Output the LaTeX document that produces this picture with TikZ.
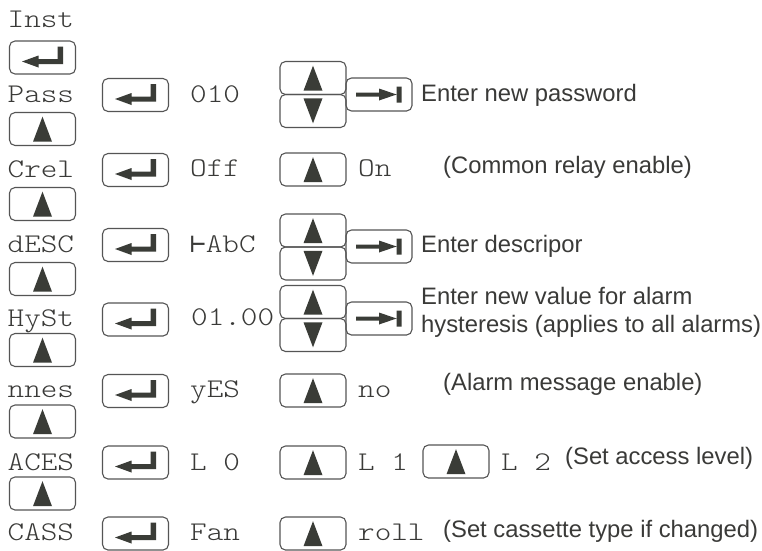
\documentclass[tikz,border=0pt]{standalone}
\usepackage{fontspec}
\setmainfont{Liberation Sans}
\newfontfamily\lmono[FakeStretch=1.17]{lmmonolt10-regular.otf}
\newfontfamily\dvmono{DejaVu Sans Mono}
\definecolor{txtcol}{RGB}{58,58,56}
\definecolor{symcol}{RGB}{58,60,55}
\definecolor{bordercol}{RGB}{85,85,85}
\tikzset{
  btn/.style={draw=bordercol, line width=1.1pt, rounded corners=5.5pt,
    minimum width=66pt, minimum height=33pt, inner sep=0pt, outer sep=0pt},
  upbtn/.style={btn, path picture={\fill[symcol, sharp corners, shift={(path picture bounding box.center)}, x=1pt, y=1pt]
    (0,12.3) -- (-9.5,-12.7) -- (9.5,-12.7) -- cycle;}},
  downbtn/.style={btn, path picture={\fill[symcol, sharp corners, shift={(path picture bounding box.center)}, x=1pt, y=1pt]
    (0,-12.3) -- (-9.5,12.7) -- (9.5,12.7) -- cycle;}},
  enterbtn/.style={btn, path picture={\fill[symcol, sharp corners, shift={(path picture bounding box.center)}, x=1pt, y=1pt]
    (-20.5,-4) -- (-4,2) -- (-4,-1.5) -- (15,-1.5) -- (15,11) -- (20.5,11) -- (20.5,-6.5) -- (-4,-6.5) -- (-4,-10) -- cycle;}},
  tabbtn/.style={btn, path picture={\fill[symcol, sharp corners, shift={(path picture bounding box.center)}, x=1pt, y=1pt]
    (-23,2) -- (0,2) -- (0,6) -- (17.5,0) -- (0,-6) -- (0,-2) -- (-23,-2) -- cycle
    (17.5,-8) rectangle (22.5,8);}},
  mono/.style={font=\lmono\fontsize{27}{30}\selectfont, text=txtcol, anchor=base west, inner sep=0pt},
  desc/.style={font=\fontsize{23.8}{28}\selectfont, text=txtcol, anchor=base west, inner sep=0pt},
}
\begin{document}
\begin{tikzpicture}[x=1pt,y=-1pt]
\useasboundingbox[fill=white] (0,0) rectangle (762,550);
% left column labels
\node[mono] (lInst) at (7.5,27) {Inst};
\node[mono] (lPass) at (7.5,102) {Pass};
\node[mono] (lCrel) at (7.5,177) {Crel};
\node[mono] (ldESC) at (7.5,252) {dESC};
\node[mono] (lHySt) at (7.5,326) {HySt};
\node[mono] (lnnes) at (7.5,397) {nnes};
\node[mono] (lACES) at (7.5,470) {ACES};
\node[mono] (lCASS) at (7.5,540) {CASS};
% left column buttons
\node[enterbtn] (b0) at (42.5,57.5) {};
\node[upbtn] (b1) at (42.5,129) {};
\node[upbtn] (b2) at (42.5,204) {};
\node[upbtn] (b3) at (42.5,279) {};
\node[upbtn] (b4) at (42.5,350) {};
\node[upbtn] (b5) at (42.5,421.5) {};
\node[upbtn] (b6) at (42.5,493.5) {};
% enter buttons
\node[enterbtn] (e1) at (135.5,95) {};
\node[enterbtn] (e2) at (135.5,170) {};
\node[enterbtn] (e3) at (135.5,245) {};
\node[enterbtn] (e4) at (135.5,319.5) {};
\node[enterbtn] (e5) at (135.5,391) {};
\node[enterbtn] (e6) at (135.5,462.5) {};
\node[enterbtn] (e7) at (135.5,533.5) {};
% values
\node[mono] (v1) at (190,102) {010};
\node[mono] (v2) at (190,176) {Off};
\node[mono] (v3) at (190,252) {{\dvmono\fontsize{26}{30}\selectfont ⊢}AbC};
\node[mono] (v4) at (191,325) {01.00};
\node[mono] (v5) at (190,397) {yES};
\node[mono] (v6) at (190,470) {L 0};
\node[mono] (v7) at (190,540) {Fan};
% Pass row
\node[upbtn] (p1u) at (313,78) {};
\node[downbtn] (p1d) at (313,111) {};
\node[tabbtn] (p1t) at (379,94.5) {};
\node[desc] (d1) at (421,101) {Enter new password};
% Crel row
\node[upbtn] (c1u) at (313,169.5) {};
\node[mono] (c1v) at (358,176) {On};
\node[desc] (d2) at (443,173) {(Common relay enable)};
% dESC row
\node[upbtn] (s1u) at (313,230.5) {};
\node[downbtn] (s1d) at (313,263.5) {};
\node[tabbtn] (s1t) at (379,246.5) {};
\node[desc] (d3) at (421,252) {Enter descripor};
% HySt row
\node[upbtn] (h1u) at (313,302) {};
\node[downbtn] (h1d) at (313,335) {};
\node[tabbtn] (h1t) at (379,318.5) {};
\node[desc] (d4a) at (421,304) {Enter new value for alarm};
\node[desc] (d4b) at (421,332) {hysteresis (applies to all alarms)};
% nnes row
\node[upbtn] (n1u) at (313,390.5) {};
\node[mono] (n1v) at (358,397) {no};
\node[desc] (d5) at (443,390) {(Alarm message enable)};
% ACES row
\node[upbtn] (a1u) at (313,462.5) {};
\node[mono] (a1v) at (358,470) {L 1};
\node[upbtn] (a2u) at (456,461.5) {};
\node[mono] (a2v) at (501,470) {L 2};
\node[desc] (d6) at (565,464) {(Set access level)};
% CASS row
\node[upbtn] (k1u) at (313,533.5) {};
\node[mono] (k1v) at (358,540) {roll};
\node[desc] (d7) at (443,537) {(Set cassette type if changed)};
\end{tikzpicture}
\end{document}
